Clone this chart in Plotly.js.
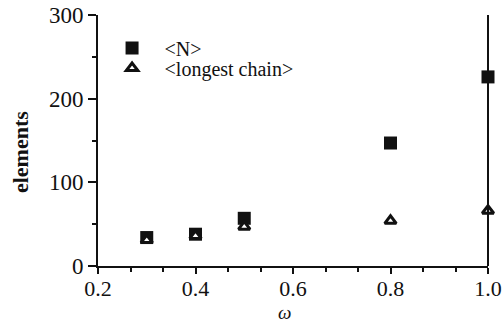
<!DOCTYPE html>
<html>
<head>
<meta charset="utf-8">
<script src="https://cdn.plot.ly/plotly-3.0.1.min.js"></script>
<style>html,body{margin:0;padding:0;background:#fff;}</style>
</head>
<body>
<div id="chart" style="width:504px;height:324px;"></div>
<script>
var omega = [0.3, 0.4, 0.5, 0.8, 1.0];
var meanN = [34, 38, 57, 147, 226];
var longestChain = [31, 36, 47, 54, 66];
var seriesNames = ['&lt;N&gt;', '&lt;longest chain&gt;'];
var xTickVals = [0.2, 0.4, 0.6, 0.8, 1.0];
var xTickText = ['0.2', '0.4', '0.6', '0.8', '1.0'];
var yTickVals = [0, 100, 200, 300];
var xTitle = '<i>ω</i>';
var yTitle = '<b>elements</b>';

var serif = "'Liberation Serif', 'Times New Roman', Times, serif";

var traces = [
  {
    x: omega, y: meanN, name: seriesNames[0], type: 'scatter', mode: 'markers', cliponaxis: false,
    legend: 'legend',
    marker: {symbol: 'square', size: 13, color: '#111', line: {width: 0}}
  },
  {
    x: omega, y: longestChain, name: seriesNames[1], type: 'scatter', mode: 'markers', cliponaxis: false,
    legend: 'legend2',
    marker: {symbol: 'triangle-up', size: 10, color: '#fff', line: {width: 3, color: '#111'}}
  }
];

var legendCommon = {
  xanchor: 'left', yanchor: 'middle',
  bgcolor: 'rgba(0,0,0,0)', borderwidth: 0,
  font: {family: serif, size: 20, color: '#111'},
  itemwidth: 55
};

var layout = {
  width: 504, height: 324,
  margin: {l: 98, r: 16, t: 15, b: 58},
  paper_bgcolor: '#fff', plot_bgcolor: '#fff',
  font: {family: serif, color: '#111', size: 23},
  showlegend: true,
  legend: Object.assign({x: 0.004, y: 0.869}, legendCommon),
  legend2: Object.assign({x: 0.004, y: 0.789}, legendCommon),
  xaxis: {
    range: [0.2, 1.0], showgrid: false, zeroline: false,
    showline: true, linecolor: '#111', linewidth: 2,
    ticks: 'outside', ticklen: 6, tickwidth: 2, tickcolor: '#111',
    ticklabelstandoff: -4,
    tickvals: xTickVals, ticktext: xTickText,
    tickfont: {family: serif, size: 22, color: '#111'},
    minor: {dtick: 0.2/3, tick0: 0.2, ticks: 'outside', ticklen: 4, tickwidth: 2, tickcolor: '#111'}
  },
  yaxis: {
    range: [0, 300], showgrid: false, zeroline: false,
    showline: true, linecolor: '#111', linewidth: 2,
    ticks: 'outside', ticklen: 8, tickwidth: 2, tickcolor: '#111',
    tickvals: yTickVals,
    tickfont: {family: serif, size: 23, color: '#111'},
    minor: {dtick: 50, ticks: 'outside', ticklen: 4, tickwidth: 2, tickcolor: '#111'}
  },
  annotations: [
    {text: xTitle, xref: 'paper', yref: 'paper', x: 0.477, y: -0.2311, xanchor: 'center', yanchor: 'bottom',
     borderpad: 0, showarrow: false, font: {family: serif, size: 19, color: '#111'}},
    {text: yTitle, xref: 'paper', yref: 'paper', x: -0.2, y: 0.454, xanchor: 'center', yanchor: 'middle',
     textangle: -90, showarrow: false, font: {family: serif, size: 22, color: '#111'}}
  ],
  shapes: [
    {type: 'line', xref: 'paper', yref: 'paper', x0: 1, x1: 1, y0: 0, y1: 1, line: {color: '#111', width: 2}}
  ]
};

Plotly.newPlot('chart', traces, layout, {displayModeBar: false, staticPlot: true});
</script>
</body>
</html>
